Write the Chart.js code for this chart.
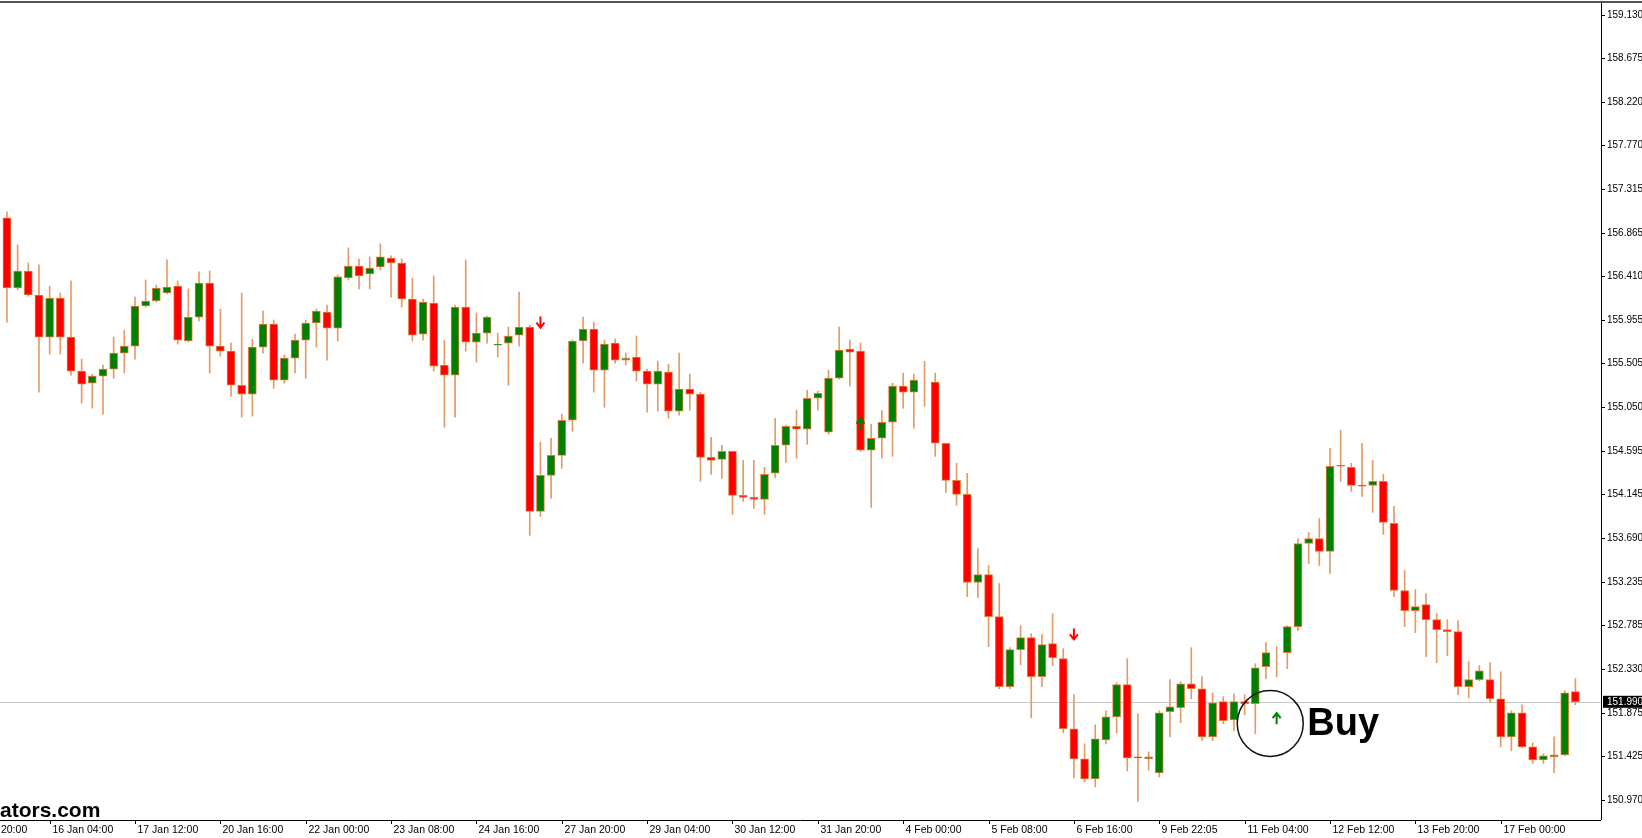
<!DOCTYPE html>
<html><head><meta charset="utf-8">
<script src="https://cdn.jsdelivr.net/npm/chart.js@4.4.1/dist/chart.umd.min.js"></script>
<style>html,body{margin:0;padding:0;background:#fff;overflow:hidden}#wrap{width:1642px;height:838px}</style>
</head><body><div id="wrap"><canvas id="c" width="1642" height="838"></canvas></div>
<script>
const opens=[157.018,156.289,156.466,156.216,155.779,156.185,155.779,155.425,155.300,155.373,155.446,155.613,155.685,156.102,156.154,156.237,156.310,155.738,155.987,156.341,155.685,155.633,155.279,155.186,155.675,155.914,155.332,155.560,155.748,155.925,156.039,155.873,156.393,156.518,156.435,156.508,156.601,156.549,156.175,155.810,156.133,155.488,155.384,156.091,155.727,155.821,155.696,155.717,155.800,155.883,153.968,154.343,154.551,154.915,155.738,155.862,155.436,155.717,155.540,155.571,155.425,155.290,155.415,155.009,155.238,155.186,154.530,154.509,154.593,154.135,154.114,154.093,154.364,154.655,154.853,154.822,155.144,154.790,155.352,155.654,155.633,154.603,154.728,154.894,155.269,155.207,155.321,155.311,154.676,154.291,154.145,153.229,153.312,152.875,152.147,152.532,152.657,152.251,152.594,152.438,151.710,151.397,151.189,151.595,151.834,152.168,151.418,151.397,151.252,151.887,151.928,152.178,152.126,151.626,151.991,151.803,151.991,151.970,152.355,152.501,152.501,152.771,153.635,153.687,153.552,154.437,154.426,154.239,154.239,154.280,153.843,153.146,152.938,153.000,152.844,152.740,152.719,152.147,152.220,152.220,152.022,151.626,151.876,151.522,151.387,151.418,151.439,152.095];
const highs=[157.080,156.737,156.549,156.529,156.310,156.237,156.362,155.550,155.394,155.488,155.779,155.852,156.195,156.372,156.320,156.581,156.362,156.279,156.456,156.466,156.070,155.717,156.237,155.758,156.050,155.956,155.592,155.810,155.956,156.070,156.112,156.424,156.706,156.591,156.612,156.747,156.622,156.591,156.393,156.175,156.414,155.748,156.112,156.581,156.029,155.998,155.821,155.883,156.247,155.904,154.686,154.728,154.978,155.748,155.987,155.935,155.748,155.758,155.613,155.790,155.446,155.529,155.498,155.613,155.394,155.207,154.738,154.655,154.593,154.499,154.499,154.426,154.936,154.863,155.019,155.227,155.217,155.436,155.883,155.748,155.717,154.874,155.019,155.300,155.404,155.394,155.529,155.404,154.676,154.468,154.364,153.583,153.406,153.219,152.553,152.782,152.698,152.688,152.906,152.542,152.064,151.553,151.751,151.897,152.188,152.438,151.866,151.470,151.897,152.220,152.199,152.553,152.251,152.084,152.043,152.074,152.064,152.386,152.605,152.563,152.781,153.687,153.750,153.895,154.624,154.811,154.468,154.676,154.499,154.353,154.020,153.354,153.156,153.115,152.906,152.844,152.834,152.407,152.365,152.397,152.303,151.897,151.959,151.564,151.449,151.626,152.105,152.230];
const lows=[155.935,156.270,156.206,155.207,155.602,155.602,155.384,155.092,155.040,154.978,155.352,155.404,155.550,156.090,156.143,156.227,155.706,155.730,155.946,155.404,155.581,155.165,154.947,154.957,155.613,155.248,155.300,155.404,155.352,155.675,155.540,155.738,156.372,156.279,156.279,156.476,156.195,156.091,155.738,155.748,155.425,154.842,154.947,155.633,155.519,155.717,155.571,155.279,155.685,153.720,153.915,154.104,154.416,154.801,155.508,155.207,155.050,155.508,155.488,155.321,154.999,155.009,154.936,154.967,155.019,154.280,154.353,154.312,153.937,154.072,153.999,153.937,154.322,154.478,154.520,154.665,155.019,154.770,155.342,155.269,154.593,154.010,154.520,154.540,155.040,154.832,155.061,154.540,154.166,154.031,153.083,153.073,152.563,152.126,152.126,152.376,151.824,152.147,152.365,151.668,151.200,151.158,151.106,151.553,151.668,151.271,150.955,151.280,151.209,151.626,151.772,152.022,151.585,151.585,151.762,151.689,151.855,151.658,152.230,152.251,152.334,152.730,153.427,153.406,153.323,154.280,154.176,154.124,153.958,153.729,153.083,152.771,152.709,152.459,152.397,152.469,152.064,152.032,152.210,151.980,151.522,151.480,151.512,151.350,151.350,151.252,151.428,151.960];
const closes=[156.289,156.466,156.216,155.779,156.185,155.779,155.425,155.290,155.373,155.446,155.613,155.685,156.102,156.154,156.289,156.299,155.748,155.987,156.341,155.685,155.633,155.279,155.186,155.675,155.914,155.332,155.560,155.748,155.925,156.050,155.873,156.404,156.518,156.414,156.497,156.612,156.549,156.175,155.800,156.143,155.477,155.384,156.091,155.727,155.821,155.987,155.706,155.790,155.883,153.968,154.343,154.551,154.915,155.738,155.862,155.436,155.706,155.540,155.560,155.425,155.290,155.425,155.009,155.238,155.186,154.530,154.499,154.593,154.135,154.114,154.093,154.353,154.655,154.853,154.822,155.144,155.196,155.352,155.644,155.623,154.603,154.728,154.894,155.269,155.207,155.332,155.321,154.676,154.291,154.145,153.229,153.312,152.875,152.147,152.532,152.657,152.251,152.584,152.449,151.710,151.397,151.189,151.605,151.834,152.168,151.408,151.408,151.418,151.876,151.939,152.178,152.126,151.626,151.980,151.793,151.991,151.970,152.344,152.501,152.501,152.771,153.635,153.687,153.552,154.437,154.447,154.239,154.229,154.280,153.854,153.146,152.938,152.979,152.844,152.740,152.719,152.147,152.220,152.313,152.022,151.626,151.876,151.522,151.387,151.428,151.439,152.084,151.990];
const priceTicks=[159.130,158.675,158.220,157.770,157.315,156.865,156.410,155.955,155.505,155.050,154.595,154.145,153.690,153.235,152.785,152.330,151.875,151.425,150.970];
const timeLabels=["15 Jan 20:00","16 Jan 04:00","17 Jan 12:00","20 Jan 16:00","22 Jan 00:00","23 Jan 08:00","24 Jan 16:00","27 Jan 20:00","29 Jan 04:00","30 Jan 12:00","31 Jan 20:00","4 Feb 00:00","5 Feb 08:00","6 Feb 16:00","9 Feb 22:05","11 Feb 04:00","12 Feb 12:00","13 Feb 20:00","17 Feb 00:00"];
const timeLabelIdx=[-4,4,12,20,28,36,44,52,60,68,76,84,92,100,108,116,124,132,140];
const currentPrice=151.990;
const sellSignals=[{i:50,p:155.93},{i:100,p:152.69}];
const buySignals=[{i:80,p:154.88},{i:119,p:151.82}];

const idx=opens.map((_,i)=>i);
const wickData=idx.map(i=>({x:i,y:[lows[i],highs[i]]}));
const bodyData=idx.map(i=>({x:i,y:[opens[i],closes[i]]}));
const bodyColors=idx.map(i=>closes[i]>=opens[i]?'#008000':'#ff0000');

const FONT='10px "Liberation Sans", Arial, sans-serif';
const deco={id:'deco',
 beforeDatasetsDraw(ch){const c=ch.ctx,a=ch.chartArea,y=ch.scales.y;
  const py=Math.round(y.getPixelForValue(currentPrice))+0.5;
  c.save();c.strokeStyle='#c8c8c8';c.lineWidth=1;c.beginPath();c.moveTo(a.left,py);c.lineTo(a.right,py);c.stroke();c.restore();},
 afterDraw(ch){const c=ch.ctx,a=ch.chartArea,x=ch.scales.x,y=ch.scales.y;
  c.save();
  c.strokeStyle='#555';c.lineWidth=2;c.beginPath();c.moveTo(0,2);c.lineTo(1642,2);c.stroke();
  c.strokeStyle='#000';c.lineWidth=1;c.beginPath();c.moveTo(a.right+0.5,a.top);c.lineTo(a.right+0.5,a.bottom);c.moveTo(0,a.bottom+0.5);c.lineTo(a.right,a.bottom+0.5);c.stroke();
  c.font=FONT;c.fillStyle='#000';c.textBaseline='middle';c.textAlign='left';
  priceTicks.forEach(p=>{const py=Math.round(y.getPixelForValue(p))+0.5;c.beginPath();c.moveTo(a.right,py);c.lineTo(a.right+4,py);c.stroke();c.fillText(p.toFixed(3),a.right+6,py);});
  const cp=y.getPixelForValue(currentPrice);c.fillStyle='#000';c.fillRect(a.right+2,cp-6,40,12);c.fillStyle='#fff';c.fillText(currentPrice.toFixed(3),a.right+6,cp);
  c.fillStyle='#000';c.textBaseline='top';c.font='10.5px "Liberation Sans", Arial, sans-serif';
  timeLabels.forEach((t,k)=>{const px=Math.round(x.getPixelForValue(timeLabelIdx[k]))+0.5;c.beginPath();c.moveTo(px,a.bottom);c.lineTo(px,a.bottom+4);c.stroke();c.fillText(t,px+2,a.bottom+5);});
  function arrow(px,py,up,col){c.strokeStyle=col;c.fillStyle=col;c.lineWidth=2;c.beginPath();
   if(up){c.moveTo(px,py+6);c.lineTo(px,py-4);c.moveTo(px-4,py);c.lineTo(px,py-5);c.lineTo(px+4,py);}
   else{c.moveTo(px,py-6);c.lineTo(px,py+4);c.moveTo(px-4,py);c.lineTo(px,py+5);c.lineTo(px+4,py);}
   c.stroke();}
  sellSignals.forEach(s=>arrow(x.getPixelForValue(s.i),y.getPixelForValue(s.p),false,'#ff0000'));
  buySignals.forEach(s=>arrow(x.getPixelForValue(s.i),y.getPixelForValue(s.p),true,'#008000'));
  const bx=x.getPixelForValue(118.4),by=y.getPixelForValue(151.765);
  c.strokeStyle='#111';c.lineWidth=1.5;c.beginPath();c.arc(bx,by,33,0,Math.PI*2);c.stroke();
  c.fillStyle='#000';c.font='bold 38px "Liberation Sans", Arial, sans-serif';c.textBaseline='alphabetic';c.textAlign='left';c.fillText('Buy',bx+37,by+12);
  c.font='bold 21px "Liberation Sans", Arial, sans-serif';c.fillText('ators.com',0,a.bottom-3);
  c.restore();}
};

new Chart(document.getElementById('c'),{
 type:'bar',
 data:{datasets:[
  {data:wickData,backgroundColor:'#e39a66',barThickness:1,grouped:false,order:2},
  {data:bodyData,backgroundColor:bodyColors,borderColor:'#e07b39',borderWidth:1,borderSkipped:false,barThickness:8,grouped:false,order:1}
 ]},
 options:{responsive:false,animation:false,devicePixelRatio:1,
  layout:{padding:{top:3,left:0,right:0,bottom:0}},
  plugins:{legend:{display:false},tooltip:{enabled:false}},
  scales:{
   x:{type:'linear',offset:false,bounds:'data',min:-0.65,max:149.4,grid:{display:false,offset:false},border:{display:false},ticks:{display:false},afterFit(s){s.height=18;},
      afterDataLimits(s){s.min=-0.65;s.max=149.4;}},
   y:{position:'right',min:150.762,max:159.25,grid:{display:false},border:{display:false},ticks:{display:false},afterFit(s){s.width=41;}}
  }},
 plugins:[deco]
});
</script></body></html>
